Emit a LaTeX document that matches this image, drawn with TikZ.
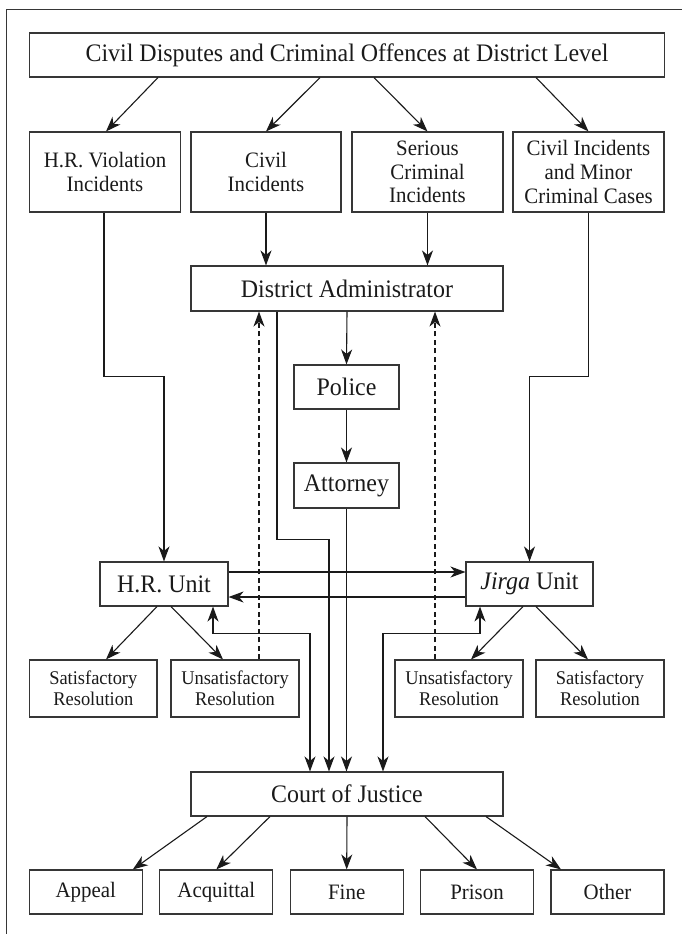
\documentclass[tikz,border=0pt]{standalone}
\usepackage{fontspec}
\setmainfont[FakeStretch=0.95]{Liberation Serif}
\usetikzlibrary{arrows.meta}
\definecolor{ink}{HTML}{1A1A1A}
\definecolor{boxline}{HTML}{363636}
\tikzset{
  box/.style={draw=boxline, line width=1.1pt, inner sep=0pt, align=center, text=ink},
  bigtxt/.style={font=\fontsize{25.2}{27}\selectfont},
  midtxt/.style={font=\fontsize{22}{23.7}\selectfont},
  smalltxt/.style={font=\fontsize{19.4}{21}\selectfont},
  arr/.style={draw=ink, line width=1.1pt, -{Stealth[length=15pt,width=11pt,inset=4.5pt]}},
  arrboth/.style={draw=ink, line width=1.1pt, {Stealth[length=15pt,width=11pt,inset=4.5pt]}-{Stealth[length=15pt,width=11pt,inset=4.5pt]}},
  dasharr/.style={arr, dash pattern=on 5pt off 3.5pt}
}
\begin{document}
\begin{tikzpicture}[x=1pt,y=-1pt]
\useasboundingbox (0,0) rectangle (682,934);
\draw[draw=boxline, line width=1pt] (6.5,950) -- (6.5,10) -- (700,10);

\node[box,bigtxt,minimum width=634.5pt,minimum height=44pt] (top) at (347,55) {Civil Disputes and Criminal Offences at District Level};

\node[box,midtxt,minimum width=150.5pt,minimum height=80pt] (r1) at (105,172) {H.R. Violation\\Incidents};
\node[box,midtxt,minimum width=150pt,minimum height=80pt] (r2) at (266,172) {Civil\\Incidents};
\node[box,midtxt,minimum width=151pt,minimum height=80pt] (r3) at (427.5,172) {Serious\\Criminal\\Incidents};
\node[box,midtxt,minimum width=151pt,minimum height=80pt] (r4) at (588.5,172) {Civil Incidents\\and Minor\\Criminal Cases};

\node[box,bigtxt,minimum width=312pt,minimum height=45pt] (da) at (347,288.5) {District Administrator};
\node[box,bigtxt,minimum width=105pt,minimum height=44pt] (police) at (346.5,387) {Police};
\node[box,bigtxt,minimum width=105pt,minimum height=45pt] (attorney) at (346.5,485.5) {Attorney};

\node[box,bigtxt,minimum width=128pt,minimum height=44pt] (hr) at (164,584) {H.R. Unit};
\node[box,bigtxt,minimum width=127pt,minimum height=44pt] (jirga) at (529.5,584) {\textit{Jirga} Unit};

\node[box,smalltxt,minimum width=127.4pt,minimum height=57pt] (s1) at (93.3,688.5) {Satisfactory\\Resolution};
\node[box,smalltxt,minimum width=128pt,minimum height=57pt] (u1) at (235,688.5) {Unsatisfactory\\Resolution};
\node[box,smalltxt,minimum width=128pt,minimum height=57pt] (u2) at (459,688.5) {Unsatisfactory\\Resolution};
\node[box,smalltxt,minimum width=128pt,minimum height=57pt] (s2) at (600,688.5) {Satisfactory\\Resolution};

\node[box,bigtxt,minimum width=312pt,minimum height=44pt] (court) at (347,794) {Court of Justice};

\node[box,midtxt,minimum width=112.5pt,minimum height=44pt] (appeal) at (85.8,892) {Appeal};
\node[box,midtxt,minimum width=113pt,minimum height=44pt] (acq) at (216.3,892) {Acquittal};
\node[box,midtxt,minimum width=113pt,minimum height=44pt] (fine) at (346.7,892) {Fine};
\node[box,midtxt,minimum width=112.5pt,minimum height=44pt] (prison) at (477,892) {Prison};
\node[box,midtxt,minimum width=113pt,minimum height=44pt] (other) at (607.5,892) {Other};

% top to row 2
\draw[arr] ([xshift=-189pt]top.south) -- ([xshift=1pt]r1.north);
\draw[arr] ([xshift=-27pt]top.south) -- (r2.north);
\draw[arr] ([xshift=27pt]top.south) -- (r3.north);
\draw[arr] ([xshift=189pt]top.south) -- (r4.north);

% row 2 to administrator
\draw[arr] (r2.south) -- (r2.south |- da.north);
\draw[arr] (r3.south) -- (r3.south |- da.north);

% outer routes to units
\draw[arr] ([xshift=-1pt]r1.south) -- ++(0,164) -| (hr.north);
\draw[arr] (r4.south) -- ++(0,164) -| (jirga.north);

% central chain
\draw[arr] (da.south) -- (police.north);
\draw[arr] (police.south) -- (attorney.north);
\draw[arr] (attorney.south) -- (attorney.south |- court.north);
\draw[arr] ([xshift=-70pt]da.south) -- ++(0,228) -| ([xshift=-18pt]court.north);

% between units
\draw[arr] ([yshift=12pt]hr.east) -- ([yshift=12pt]jirga.west);
\draw[arr] ([yshift=-13pt]jirga.west) -- ([yshift=-13pt]hr.east);

% units to resolutions
\draw[arr] ([xshift=-7pt]hr.south) -- ([xshift=12.7pt]s1.north);
\draw[arr] ([xshift=7pt]hr.south) -- ([xshift=-12pt]u1.north);
\draw[arr] ([xshift=-6.5pt]jirga.south) -- ([xshift=12pt]u2.north);
\draw[arr] ([xshift=6.5pt]jirga.south) -- ([xshift=-12pt]s2.north);

% units <-> court
\draw[arrboth] ([xshift=49pt]hr.south) -- ++(0,27) -| ([xshift=-37pt]court.north);
\draw[arrboth] ([xshift=-49.5pt]jirga.south) -- ++(0,27) -| ([xshift=36pt]court.north);

% dashed feedback
\draw[dasharr] ([xshift=24pt]u1.north) -- ([xshift=24pt]u1.north |- da.south);
\draw[dasharr] ([xshift=-24pt]u2.north) -- ([xshift=-24pt]u2.north |- da.south);

% court outcomes
\draw[arr] ([xshift=-140pt]court.south) -- ([xshift=47pt]appeal.north);
\draw[arr] ([xshift=-77pt]court.south) -- (acq.north);
\draw[arr] (court.south) -- (fine.north);
\draw[arr] ([xshift=78pt]court.south) -- (prison.north);
\draw[arr] ([xshift=139pt]court.south) -- ([xshift=-46.5pt]other.north);
\end{tikzpicture}
\end{document}
